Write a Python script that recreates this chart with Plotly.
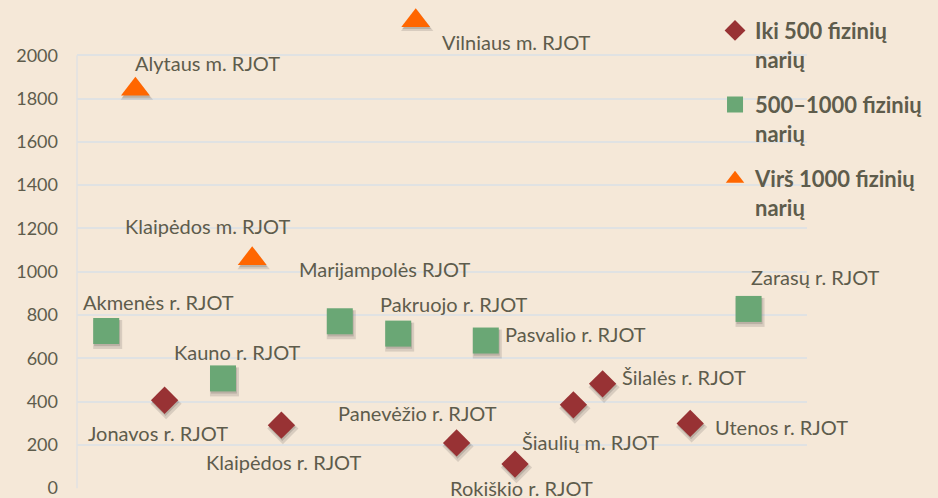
import plotly.graph_objects as go

# ---- data ----
small_names = ["Jonavos r. RJOT", "Klaipėdos r. RJOT", "Panevėžio r. RJOT", "Rokiškio r. RJOT",
               "Šiaulių m. RJOT", "Šilalės r. RJOT", "Utenos r. RJOT"]
small_x = [3, 7, 13, 15, 17, 18, 21]
small_y = [406, 291, 209, 111, 385, 482, 299]

mid_names = ["Akmenės r. RJOT", "Kauno r. RJOT", "Marijampolės RJOT", "Pakruojo r. RJOT",
             "Pasvalio r. RJOT", "Zarasų r. RJOT"]
mid_x = [1, 5, 9, 11, 14, 23]
mid_y = [726, 507, 771, 714, 682, 828]

big_names = ["Alytaus m. RJOT", "Klaipėdos m. RJOT", "Vilniaus m. RJOT"]
big_x = [2, 6, 11.6]
big_y = [1843, 1060, 2160]

series_names = ["Iki 500 fizinių<br>narių", "500–1000 fizinių<br>narių", "Virš 1000 fizinių<br>narių"]
y_ticks = [0, 200, 400, 600, 800, 1000, 1200, 1400, 1600, 1800, 2000]

# label pixel offsets (dx, dy-up) relative to each marker
label_offsets = {
    "Jonavos r. RJOT": (-7, -33), "Klaipėdos r. RJOT": (2, -37), "Panevėžio r. RJOT": (-39, 30),
    "Rokiškio r. RJOT": (6, -24), "Šiaulių m. RJOT": (17, -37), "Šilalės r. RJOT": (81, 7),
    "Utenos r. RJOT": (91, -4),
    "Akmenės r. RJOT": (52, 29), "Kauno r. RJOT": (14, 26), "Marijampolės RJOT": (45, 52),
    "Pakruojo r. RJOT": (56, 30), "Pasvalio r. RJOT": (90, 7), "Zarasų r. RJOT": (67, 32),
    "Alytaus m. RJOT": (72, 26), "Klaipėdos m. RJOT": (-45, 33), "Vilniaus m. RJOT": (101, -21),
}

TEXT = "#5e5c4c"
FONT = "Lato"
GRID = "#e0e2e3"
colors = ["#983234", "#6aa775", "#ff6600"]
symbols = ["diamond", "square", "triangle-up"]
sizes = [21, 26, 25]

fig = go.Figure()
groups = [(small_x, small_y, small_names), (mid_x, mid_y, mid_names), (big_x, big_y, big_names)]

# soft shadows under markers
for i, (xs, ys, ns) in enumerate(groups):
    for k, (dx, dy, op, grow) in enumerate([(0.05, -16, 0.16, 3), (0.03, -10, 0.2, 0)]):
        fig.add_trace(go.Scatter(
            x=[v + dx for v in xs], y=[v + dy for v in ys], mode="markers",
            marker=dict(symbol=symbols[i], size=sizes[i] + grow, color=f"rgba(70,65,60,{op})",
                        line=dict(width=0)),
            showlegend=False, hoverinfo="skip", cliponaxis=False))

for i, (xs, ys, ns) in enumerate(groups):
    fig.add_trace(go.Scatter(
        x=xs, y=ys, mode="markers", name=series_names[i], legendgroup=str(i),
        marker=dict(symbol=symbols[i], size=sizes[i], color=colors[i], line=dict(width=0)),
        text=ns, cliponaxis=False))
    for xv, yv, nm in zip(xs, ys, ns):
        dx, dy = label_offsets[nm]
        fig.add_annotation(x=xv, y=yv, text=nm, showarrow=False, xshift=dx, yshift=dy,
                           font=dict(family=FONT, size=20, color=TEXT), xanchor="center",
                           yanchor="middle")

# left axis line, only over the ticked span
fig.add_shape(type="line", xref="paper", x0=0, x1=0, yref="y", y0=y_ticks[0], y1=y_ticks[-1],
              line=dict(color=GRID, width=1.5), layer="below")

fig.update_layout(
    width=938, height=498,
    margin=dict(l=77, r=131, t=12, b=9, autoexpand=False),
    paper_bgcolor="#f5e8d8", plot_bgcolor="#f5e8d8",
    font=dict(family=FONT, color=TEXT),
    legend=dict(x=0.874, y=1.005, xanchor="left", yanchor="top", bgcolor="rgba(0,0,0,0)",
                font=dict(family=FONT, size=22, color=TEXT, weight="bold"),
                valign="top", tracegroupgap=14, traceorder="grouped", itemwidth=30),
    showlegend=True,
)
fig.update_xaxes(range=[0, 25], visible=False, showgrid=False, zeroline=False, automargin=False)
fig.update_yaxes(range=[-4, 2200], tickvals=y_ticks, ticktext=[str(v) for v in y_ticks],
                 showgrid=True, gridcolor=GRID, gridwidth=1.5,
                 zeroline=False, showline=False, automargin=False,
                 ticklabeloverflow="allow",
                 tickfont=dict(family=FONT, size=18, color=TEXT), ticklabelstandoff=18)

fig.write_html("out.html", config={"displayModeBar": False},
               post_script="document.body.style.margin='0';document.body.style.background='#f5e8d8';")
